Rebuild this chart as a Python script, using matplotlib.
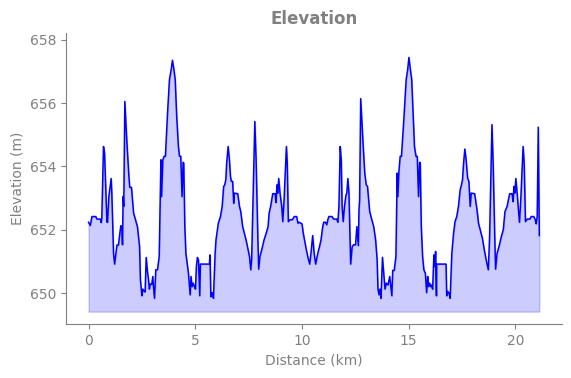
import matplotlib
matplotlib.use("Agg")
import matplotlib.pyplot as plt

distance_km = [
    0.00, 0.08, 0.16, 0.34, 0.39, 0.55, 0.59, 0.62, 0.70, 0.75, 0.86, 0.89, 0.95, 1.06, 1.09,
    1.17, 1.22, 1.33, 1.40, 1.51, 1.56, 1.59, 1.62, 1.65, 1.70, 1.79, 1.89, 1.93, 2.01, 2.11,
    2.20, 2.29, 2.39, 2.43, 2.50, 2.54, 2.61, 2.65, 2.70, 2.76, 2.81, 2.85, 2.89, 2.96, 3.01,
    3.04, 3.09, 3.15, 3.23, 3.31, 3.39, 3.42, 3.48, 3.54, 3.60, 3.70, 3.79, 3.87, 3.93, 3.99,
    4.06, 4.13, 4.21, 4.26, 4.32, 4.38, 4.43, 4.46, 4.51, 4.56, 4.62, 4.68, 4.73, 4.76, 4.80,
    4.85, 4.90, 4.96, 5.01, 5.05, 5.10, 5.15, 5.21, 5.24, 5.66, 5.69, 5.73, 5.77, 5.82, 5.85,
    5.93, 5.97, 6.08, 6.18, 6.26, 6.33, 6.38, 6.43, 6.47, 6.54, 6.60, 6.65, 6.69, 6.75, 6.80,
    6.83, 6.99, 7.07, 7.13, 7.22, 7.30, 7.38, 7.46, 7.54, 7.60, 7.64, 7.72, 7.79, 7.85, 7.93,
    7.97, 8.03, 8.13, 8.22, 8.32, 8.41, 8.46, 8.53, 8.63, 8.74, 8.78, 8.83, 8.86, 8.91, 8.97,
    9.05, 9.10, 9.16, 9.22, 9.27, 9.31, 9.36, 9.44, 9.55, 9.64, 9.75, 9.81, 9.87, 10.00, 10.06,
    10.13, 10.19, 10.27, 10.36, 10.42, 10.50, 10.57, 10.64, 10.74, 10.82, 10.89, 10.97, 11.02,
    11.10, 11.16, 11.21, 11.26, 11.41, 11.48, 11.63, 11.68, 11.73, 11.79, 11.84, 11.88, 11.93,
    11.99, 12.06, 12.10, 12.15, 12.20, 12.28, 12.35, 12.42, 12.51, 12.57, 12.64, 12.67, 12.70,
    12.75, 12.86, 12.94, 13.01, 13.07, 13.17, 13.27, 13.36, 13.45, 13.52, 13.56, 13.61, 13.65,
    13.70, 13.77, 13.83, 13.89, 13.95, 14.03, 14.11, 14.16, 14.21, 14.25, 14.32, 14.40, 14.46,
    14.49, 14.54, 14.60, 14.66, 14.77, 14.88, 14.95, 15.01, 15.07, 15.14, 15.21, 15.27, 15.34,
    15.40, 15.46, 15.51, 15.54, 15.59, 15.65, 15.71, 15.78, 15.84, 15.89, 15.93, 15.98, 16.03,
    16.07, 16.12, 16.18, 16.23, 16.26, 16.30, 16.31, 16.75, 16.78, 16.83, 16.89, 16.94, 17.02,
    17.10, 17.17, 17.25, 17.33, 17.41, 17.47, 17.52, 17.57, 17.63, 17.69, 17.76, 17.82, 17.88,
    17.93, 18.09, 18.20, 18.27, 18.35, 18.45, 18.54, 18.60, 18.66, 18.73, 18.79, 18.84, 18.90,
    18.96, 19.03, 19.07, 19.14, 19.23, 19.34, 19.43, 19.51, 19.61, 19.67, 19.73, 19.84, 19.89,
    19.93, 19.97, 20.02, 20.08, 20.14, 20.19, 20.25, 20.31, 20.36, 20.41, 20.47, 20.55, 20.68,
    20.74, 20.86, 20.93, 20.97, 21.02, 21.07, 21.12,
]

elevation_m = [
    652.24, 652.14, 652.42, 652.42, 652.34, 652.34, 652.23, 652.37, 654.63, 654.42, 652.24, 652.24, 653.05, 653.62, 653.16,
    651.26, 650.92, 651.52, 651.52, 652.13, 652.11, 651.53, 653.05, 652.74, 656.05, 654.84, 653.68, 653.34, 653.34, 652.53,
    652.32, 652.10, 651.47, 650.42, 649.92, 650.13, 650.06, 650.04, 651.13, 650.68, 650.42, 650.13, 650.29, 650.28, 650.53,
    650.21, 649.84, 650.74, 650.74, 651.16, 654.21, 653.05, 654.21, 654.32, 654.32, 655.68, 656.74, 657.05, 657.35, 657.10,
    656.74, 655.58, 654.63, 654.32, 654.32, 653.05, 654.13, 654.11, 652.10, 651.26, 650.95, 650.63, 650.18, 649.95, 650.53,
    650.21, 650.32, 650.21, 650.13, 650.84, 651.13, 651.05, 649.92, 650.92, 650.92, 651.21, 649.89, 650.00, 650.02, 649.84,
    651.26, 651.68, 652.21, 652.42, 652.74, 653.37, 653.42, 653.58, 654.10, 654.63, 654.21, 653.68, 653.53, 653.53, 652.84,
    653.16, 653.14, 652.74, 652.58, 652.10, 651.89, 651.68, 651.42, 651.16, 650.74, 651.05, 653.37, 655.42, 654.21, 651.79,
    650.76, 651.16, 651.42, 651.68, 651.89, 652.10, 652.53, 652.74, 653.14, 653.14, 652.86, 653.42, 653.16, 653.62, 653.16,
    652.74, 652.26, 652.95, 653.89, 654.63, 654.10, 652.26, 652.32, 652.32, 652.42, 652.42, 652.21, 652.24, 652.19, 651.89,
    651.63, 651.42, 651.16, 650.92, 651.26, 651.82, 651.26, 650.92, 651.26, 651.47, 651.68, 652.10, 652.24,
    652.24, 652.16, 652.32, 652.42, 652.42, 652.34, 652.34, 652.24, 652.74, 654.63, 654.21, 652.74, 652.26,
    652.74, 653.10, 653.16, 653.62, 653.16, 650.92, 651.47, 651.53, 651.53, 652.10, 651.50, 652.63, 652.95,
    656.14, 654.74, 653.79, 653.42, 653.37, 652.58, 652.32, 652.10, 651.68, 651.05, 650.13, 649.95, 650.13,
    649.84, 651.13, 650.63, 650.13, 650.32, 650.26, 650.53, 650.21, 649.92, 650.72, 650.72, 651.16, 653.79,
    653.05, 653.84, 654.32, 654.32, 655.47, 656.74, 657.05, 657.44, 657.10, 656.74, 655.58, 654.63, 654.32,
    654.32, 653.05, 654.13, 654.11, 652.10, 651.16, 650.74, 650.63, 650.02, 650.53, 650.21, 650.32, 650.21,
    650.26, 650.13, 651.21, 650.84, 651.32, 649.92, 650.92, 650.92, 649.92, 650.06, 650.00, 649.84, 651.26,
    651.89, 652.26, 652.42, 652.74, 653.26, 653.42, 653.58, 654.10, 654.55, 654.21, 653.63, 653.53, 652.74,
    653.16, 653.14, 652.63, 652.21, 652.00, 651.74, 651.37, 651.16, 650.95, 650.74, 651.79, 653.37, 655.32,
    654.00, 651.79, 650.76, 651.26, 651.47, 651.79, 652.00, 652.58, 652.74, 652.95, 653.14, 653.14, 652.89,
    653.37, 653.16, 653.62, 653.16, 652.63, 652.24, 652.95, 653.89, 654.63, 654.10, 652.26, 652.34, 652.34,
    652.42, 652.42, 652.32, 652.19, 652.42, 655.24, 651.82,
]

fill_base_m = 649.42

gray = "#808080"

fig = plt.figure(figsize=(5.71, 3.78), dpi=100)
ax = fig.add_axes([0.1156, 0.1429, 0.8684, 0.7706])

ax.fill_between(distance_km, elevation_m, fill_base_m, color="blue", alpha=0.2)
ax.plot(distance_km, elevation_m, color="blue", linewidth=1.1)

ax.set_ylim(649.03, 658.22)
ax.margins(x=0.05)

ax.set_title("Elevation", fontsize=12, fontweight="bold", color=gray)
ax.set_xlabel("Distance (km)", fontsize=10, color=gray)
ax.set_ylabel("Elevation (m)", fontsize=10, color=gray)

ax.set_xticks([0, 5, 10, 15, 20])
ax.set_yticks([650, 652, 654, 656, 658])

ax.spines["top"].set_visible(False)
ax.spines["right"].set_visible(False)
for s in ("left", "bottom"):
    ax.spines[s].set_color(gray)
ax.tick_params(colors=gray, labelsize=10)

fig.savefig("out.png", dpi=100)
